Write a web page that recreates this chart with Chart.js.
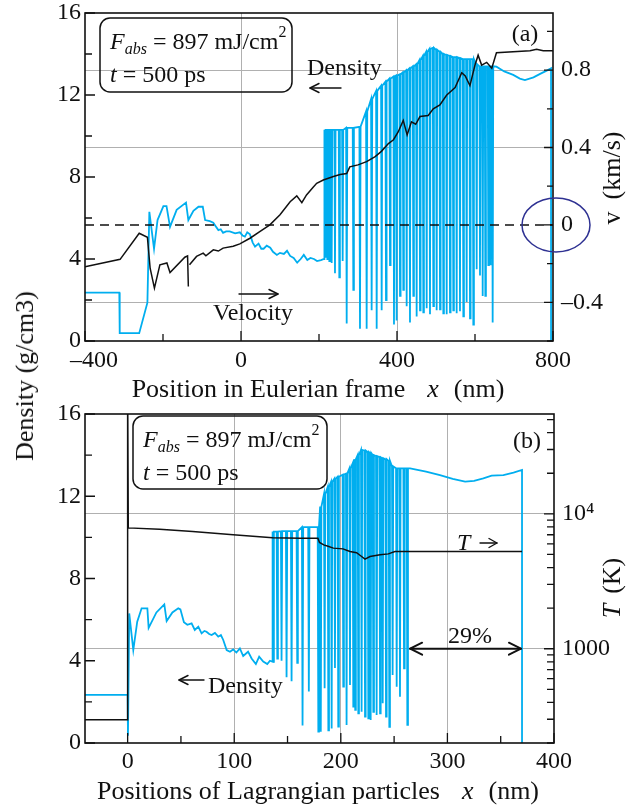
<!DOCTYPE html>
<html>
<head>
<meta charset="utf-8">
<script src="https://cdn.jsdelivr.net/npm/chart.js@4.4.1/dist/chart.umd.min.js"></script>
<style>
  html, body { margin:0; padding:0; background:#fff; }
  body { width:631px; height:811px; position:relative; overflow:hidden; }
  canvas { position:absolute; left:0; }
  #c1 { top:0; }
  #c2 { top:400px; }
  #ylab { position:absolute; left:25px; top:376px; transform:translate(-50%,-50%) rotate(-90deg);
          font:26px "Liberation Serif", "Times New Roman", serif; color:#111; white-space:nowrap; }
</style>
</head>
<body>
<canvas id="c1" width="631" height="406"></canvas>
<canvas id="c2" width="631" height="411"></canvas>
<div id="ylab">Density (g/cm3)</div>
<script>
// ================= DATA =================
// ---- Panel (a): Eulerian frame ----
const eulerTicksX = [-400, -200, 0, 200, 400, 600, 800];
const eulerTickLabelsX = ['   –400', '', '0', '', '400', '', '800'];
const eulerGridX = [0, 400];
const densityTicks = [0, 2, 4, 6, 8, 10, 12, 14, 16];
const densityTickLabels = ['0', '', '4', '', '8', '', '12', '', '16'];
const velTicks = [-0.6, -0.4, -0.2, 0, 0.2, 0.4, 0.6, 0.8, 1.0];
const velTickLabels = ['', '–0.4', '', '0', '', '0.4', '', '0.8', ''];
const velGrid = [-0.4, 0.4, 0.8];

const eulerFrontX = [-400, -312, -311, -261, -240, -235, -223, -214, -199, -191, -182, -165, -141, -135, -122, -109, -98, -92,
  -80, -71, -65, -58, -52, -46, -38, -29, -15, -3, 4, 10, 16, 23, 30, 36, 45, 52, 58, 66, 75, 82, 92, 100, 110, 118,
  126, 135, 144, 153, 161, 170, 178, 187, 195, 205, 213];
const eulerFrontDensity = [2.36, 2.36, 0.38, 0.38, 1.87, 6.3, 4.5, 5.9, 6.58, 6.58, 5.57, 6.4, 6.75, 5.9, 6.35, 6.55, 6.55, 5.9,
  5.85, 5.77, 5.6, 5.41, 5.45, 5.28, 5.35, 5.35, 5.25, 5.3, 5.15, 5.09, 5.3, 5.2, 4.8, 4.6, 4.75, 4.5, 4.5, 4.65, 4.55, 4.35, 4.2, 4.3, 4.25, 4.4,
  4.15, 4.05, 3.82, 4.0, 4.2, 3.95, 4.05, 4.0, 3.9, 3.95, 4.0];

const eulerSpikeX = [215.4, 221.4, 226.5, 232.5, 241.0, 252.1, 260.7, 271.0, 288.0, 305.1,
  322.2, 335.0, 347.9, 360.7, 371.8, 382.1, 392.3, 399.1, 407.7, 416.2,
  424.8, 433.3, 441.9, 450.4, 459.0, 467.5, 476.1, 484.6, 493.2, 501.7,
  510.3, 518.8, 527.4, 535.9, 544.4, 553.0, 561.5, 570.1, 578.6, 587.2,
  595.7, 604.3, 612.8, 619.7, 626.5, 634.2, 640.2, 645.3];
const eulerSpikeTop = [10.3, 10.3, 10.3, 10.3, 10.3, 10.3, 10.3, 10.4, 10.4, 10.45,
  11.2, 11.8, 12.2, 12.45, 12.65, 12.8, 12.9, 12.95, 13.0, 13.1,
  13.2, 13.3, 13.4, 13.5, 13.7, 13.9, 14.1, 14.25, 14.3, 14.2,
  14.1, 14.0, 13.95, 13.9, 13.85, 13.85, 13.8, 13.75, 13.75, 13.75,
  13.75, 13.5, 13.4, 13.4, 13.4, 13.4, 13.4, 13.4];
const eulerSpikeLow = [4.1, 4.0, 3.9, 3.8, 3.3, 3.1, 3.9, 0.85, 2.5, 0.6,
  0.6, 1.5, 0.6, 1.5, 2.0, 3.7, 0.8, 1.0, 2.2, 2.5,
  1.7, 0.9, 2.2, 1.2, 1.5, 1.4, 1.6, 1.3, 1.7, 1.5,
  1.55, 1.35, 1.3, 1.4, 1.5, 1.35, 1.45, 1.2, 1.9, 1.1,
  0.8, 3.5, 3.2, 2.2, 2.2, 3.7, 3.7, 0.9];

const eulerTailX = [655, 675, 698, 715, 728, 750, 767, 780, 795, 795];
const eulerTailDensity = [13.38, 13.15, 12.98, 12.8, 12.73, 12.86, 13.03, 13.15, 13.3, 0];

const eulerVelX = [-400, -310, -261, -240, -233, -222, -208, -190, -182, -144, -137, -135, -134, -132, -114, -97, -90, -71, -58,
  -46, -20, -3, 23, 49, 74, 100, 126, 143, 156, 168, 185, 194, 211, 237, 254, 271, 279, 300, 322, 344, 360, 378,
  391, 403, 416, 426, 437, 448, 459, 480, 493, 510, 527, 549, 566, 575, 587, 600, 608, 617, 630, 643, 655, 741,
  758, 775, 800];
const eulerVel = [-0.217, -0.178, -0.043, -0.064, -0.224, -0.327, -0.206, -0.197, -0.246, -0.167, -0.16, -0.318, null, -0.206, -0.163, -0.146, -0.16, -0.129, -0.135,
  -0.12, -0.11, -0.098, -0.069, -0.034, 0, 0.052, 0.12, 0.15, 0.115, 0.155, 0.195, 0.215, 0.232, 0.25, 0.26, 0.265, 0.3, 0.31, 0.327, 0.353, 0.38, 0.42,
  0.44, 0.48, 0.54, 0.465, 0.533, 0.52, 0.56, 0.565, 0.6, 0.62, 0.67, 0.71, 0.786, 0.77, 0.72, 0.826, 0.877, 0.826, 0.84, 0.81, 0.89, 0.9,
  0.907, 0.9, 0.9];
const velocityZero = 0;

// ---- Panel (b): Lagrangian particles ----
const lagTicksX = [0, 50, 100, 150, 200, 250, 300, 350, 400];
const lagTickLabelsX = ['0', '', '100', '', '200', '', '300', '', '400'];
const lagGridX = [100, 200, 300];
const tempTicks = [200, 300, 400, 500, 600, 700, 800, 900, 1000, 2000, 3000, 4000, 5000, 6000, 7000, 8000, 9000, 10000, 20000, 30000, 40000, 50000];
const tempTickLabels = ['', '', '', '', '', '', '', '', '1000', '', '', '', '', '', '', '', '', '10\u2074', '', '', '', ''];
const tempGrid = [1000, 10000];

const lagFrontX = [-40, 0, 0.3, 1.5, 5.3, 9, 13.1, 18.5, 19.7, 27, 34.4, 36.6, 42, 47.5, 49.5, 52.8, 56, 60, 63, 66.3,
  69.4, 72, 74, 76.5, 78.8, 81.9, 85, 87.5, 89.7, 92.9, 96, 99, 102, 105.3, 108.4, 113, 116.3, 120.3, 123.4, 127.2, 131, 133.5, 136];
const lagFrontDensity = [2.34, 2.34, 0.35, 6.3, 4.52, 5.9, 6.55, 6.55, 5.6, 6.35, 6.74, 5.93, 6.35, 6.55, 6.5, 5.87, 5.75, 5.82, 5.5, 5.66,
  5.33, 5.45, 5.41, 5.3, 5.25, 5.35, 5.17, 5.25, 5.01, 4.52, 4.44, 4.55, 4.4, 4.6, 4.23, 4.44, 4.11, 3.84, 4.2, 3.96, 3.84, 4.0, 3.95];

const lagSpikeX = [136.6, 140.4, 144.4, 149.1, 153.8, 159.1, 164.1, 170.0, 178.9, 181.2,
  184.8, 188.3, 191.4, 194.5, 197.6, 202.3, 205.4, 208.6, 211.7, 213.5,
  216.4, 219.5, 222.7, 225.8, 228.0, 230.5, 233.6, 236.8, 239.3, 242.4,
  245.5, 248.6, 252.4, 255.5, 259.3, 262.4];
const lagSpikeTop = [10.28, 10.28, 10.3, 10.3, 10.3, 10.3, 10.5, 10.5, 10.5, 11.5,
  12.1, 12.45, 12.7, 12.85, 12.95, 13.05, 13.1, 13.35, 13.6, 13.8,
  14.0, 14.25, 14.22, 14.15, 14.1, 14.0, 13.95, 13.9, 13.85, 13.8,
  13.72, 13.45, 13.36, 13.36, 13.36, 13.36];
const lagSpikeLow = [3.95, 4.1, 4.0, 3.2, 3.0, 3.9, 0.85, 2.5, 0.55, 0.55,
  2.66, 0.62, 0.7, 3.65, 0.8, 2.74, 0.87, 2.82, 1.77, 1.61,
  1.44, 1.52, 1.28, 1.2, 1.12, 1.52, 1.36, 1.44, 1.93, 1.28,
  0.79, 3.31, 2.74, 2.25, 3.63, 0.88];

const lagTailX = [265, 280, 293, 305, 316.6, 325, 333.7, 341.5, 352.5, 362, 370, 370];
const lagTailDensity = [13.36, 13.2, 13.03, 12.85, 12.71, 12.75, 12.87, 13.0, 13.03, 13.15, 13.28, 0];

const lagTempX = [-40, 0, 0, 0.6, 30, 61, 99, 136, 162, 178.5, 180, 184, 188, 193, 202, 208.6, 214.8, 219.5, 222.7, 227.4, 236.8, 244.6, 250.8, 370];
const lagTemp = [298, 298, 100000, 7870, 7700, 7400, 7000, 6640, 6600, 6600, 6130, 5890, 5750, 5570, 5500, 5260, 5150, 4830, 4620, 4830, 4970, 5050, 5260, 5260];

const gapArrowX = [265, 369];   // 29 % gap marker (Lagrangian x)
const gapArrowT = 1000;

// ================= HELPERS =================
const FONT = '"Liberation Serif", "Times New Roman", serif';
const CYAN = '#00aeef';
const GRID = '#b0b0b0';
const CLEAR = 'rgba(0,0,0,0)';
const INK = '#111';
Chart.defaults.font.family = FONT;
Chart.defaults.font.size = 24;
Chart.defaults.color = INK;

function toPoints(xs, ys) { return xs.map((x, i) => ({ x: x, y: ys[i] })); }
function densityProfile(fx, fy, sx, st, sl, tx, ty, half) {
  const pts = toPoints(fx, fy);
  sx.forEach((x, i) => {
    pts.push({ x: x - half, y: st[i] }, { x: x, y: sl[i] }, { x: x + half, y: st[i] });
  });
  return pts.concat(toPoints(tx, ty));
}
function fixedTicks(values) { return s => { s.ticks = values.map(v => ({ value: v })); }; }
function fitBox(w, h) {
  return s => {
    if (w !== null) s.width = w;
    if (h !== null) s.height = h;
    s.paddingTop = 0; s.paddingBottom = 0; s.paddingLeft = 0; s.paddingRight = 0;
  };
}
function gridAt(list) { return c => (c.tick && list.some(v => Math.abs(v - c.tick.value) < 1e-9)) ? GRID : CLEAR; }

function strokeFrame(chart) {
  const ctx = chart.ctx, a = chart.chartArea;
  ctx.save(); ctx.strokeStyle = INK; ctx.lineWidth = 1.6;
  ctx.strokeRect(a.left, a.top, a.right - a.left, a.bottom - a.top);
  ctx.restore();
}
function inwardTicks(chart, id, side, labels, major, minor) {
  const s = chart.scales[id], a = chart.chartArea, ctx = chart.ctx;
  ctx.save(); ctx.strokeStyle = INK; ctx.lineWidth = 1.3; ctx.beginPath();
  s.ticks.forEach((t, i) => {
    const p = s.getPixelForValue(t.value);
    const len = labels[i] ? major : minor;
    if (side === 'left') { ctx.moveTo(a.left, p); ctx.lineTo(a.left + len, p); }
    else if (side === 'right') { ctx.moveTo(a.right, p); ctx.lineTo(a.right - len, p); }
    else { ctx.moveTo(p, a.bottom); ctx.lineTo(p, a.bottom - len); }
  });
  ctx.stroke(); ctx.restore();
}
function arrow(ctx, x1, y1, x2, y2, head, hw, lw, both) {
  ctx.save(); ctx.strokeStyle = INK; ctx.lineWidth = lw; ctx.lineCap = 'round'; ctx.lineJoin = 'round';
  ctx.beginPath(); ctx.moveTo(x1, y1); ctx.lineTo(x2, y2); ctx.stroke();
  const tip = (xa, ya, xb, yb) => {
    const g = Math.atan2(yb - ya, xb - xa), c = Math.cos(g), s = Math.sin(g);
    ctx.beginPath();
    ctx.moveTo(xb - head * c + hw * s, yb - head * s - hw * c);
    ctx.lineTo(xb, yb);
    ctx.lineTo(xb - head * c - hw * s, yb - head * s + hw * c);
    ctx.stroke();
  };
  tip(x1, y1, x2, y2);
  if (both) tip(x2, y2, x1, y1);
  ctx.restore();
}
function rich(ctx, parts, x, y, align) {
  let w = 0;
  for (const p of parts) { if (p.gap) { w += p.gap; continue; } ctx.font = p.f; w += ctx.measureText(p.t).width; }
  let cx = align === 'center' ? x - w / 2 : x;
  ctx.textAlign = 'left';
  for (const p of parts) {
    if (p.gap) { cx += p.gap; continue; }
    ctx.font = p.f; ctx.fillText(p.t, cx, y + (p.dy || 0)); cx += ctx.measureText(p.t).width;
  }
}
function roundRect(ctx, x, y, w, h, r) {
  ctx.beginPath();
  ctx.moveTo(x + r, y); ctx.lineTo(x + w - r, y); ctx.arcTo(x + w, y, x + w, y + r, r);
  ctx.lineTo(x + w, y + h - r); ctx.arcTo(x + w, y + h, x + w - r, y + h, r);
  ctx.lineTo(x + r, y + h); ctx.arcTo(x, y + h, x, y + h - r, r);
  ctx.lineTo(x, y + r); ctx.arcTo(x, y, x + r, y, r); ctx.closePath();
}
const R24 = '24px ' + FONT, I24 = 'italic 24px ' + FONT, R16 = '16px ' + FONT, I16 = 'italic 16px ' + FONT;
const R26 = '26px ' + FONT, I26 = 'italic 26px ' + FONT;
function fluenceBox(ctx, bx, by, bw, bh, tx) {
  ctx.save(); ctx.strokeStyle = INK; ctx.lineWidth = 1.5; roundRect(ctx, bx, by, bw, bh, 10); ctx.stroke();
  ctx.fillStyle = INK; ctx.textBaseline = 'alphabetic';
  rich(ctx, [{ t: 'F', f: I24 }, { t: 'abs', f: I16, dy: 5 }, { t: ' = 897 mJ/cm', f: R24 }, { t: '2', f: R16, dy: -12 }], tx, by + 31, 'left');
  rich(ctx, [{ t: 't', f: I24 }, { t: ' = 500 ps', f: R24 }], tx, by + 64, 'left');
  ctx.restore();
}
function text(ctx, str, font, x, y, align, base) {
  ctx.save(); ctx.fillStyle = INK; ctx.font = font; ctx.textAlign = align || 'left'; ctx.textBaseline = base || 'alphabetic';
  ctx.fillText(str, x, y); ctx.restore();
}
function rotatedTitle(ctx, parts, cx, cy) {
  ctx.save(); ctx.fillStyle = INK; ctx.translate(cx, cy); ctx.rotate(-Math.PI / 2); ctx.textBaseline = 'middle';
  rich(ctx, parts, 0, 0, 'center'); ctx.restore();
}

function lineSet(label, data, axis, color, width, order, dash) {
  return { label, data, yAxisID: axis, borderColor: color, backgroundColor: color, borderWidth: width,
    showLine: true, pointRadius: 0, pointHoverRadius: 0, fill: false, tension: 0, spanGaps: false, order,
    borderDash: dash || [] };
}
const baseOptions = { responsive: false, animation: false, events: [],
  plugins: { legend: { display: false }, tooltip: { enabled: false } } };

// ================= PANEL (a) =================
const eulerDensityPts = densityProfile(eulerFrontX, eulerFrontDensity, eulerSpikeX, eulerSpikeTop, eulerSpikeLow, eulerTailX, eulerTailDensity, 1.5);
const eulerVelPts = toPoints(eulerVelX, eulerVel);
const zeroPts = [{ x: eulerTicksX[0], y: velocityZero }, { x: eulerTicksX[eulerTicksX.length - 1], y: velocityZero }];

new Chart(document.getElementById('c1'), {
  type: 'scatter',
  data: { datasets: [
    lineSet('Velocity', eulerVelPts, 'yV', INK, 1.5, 0),
    lineSet('v = 0', zeroPts, 'yV', INK, 1.5, 1, [9, 6]),
    lineSet('Density', eulerDensityPts, 'yD', CYAN, 1.8, 2)
  ] },
  options: Object.assign({}, baseOptions, {
    layout: { padding: { top: 13, left: 0, right: 0, bottom: 0 } },
    scales: {
      x: { type: 'linear', position: 'bottom', min: -400, max: 800,
        afterBuildTicks: fixedTicks(eulerTicksX), afterFit: fitBox(null, 65),
        ticks: { autoSkip: false, maxRotation: 0, minRotation: 0, padding: 5, color: INK, font: { size: 24 },
          callback: (v, i) => eulerTickLabelsX[i] },
        grid: { drawTicks: false, lineWidth: 1, color: gridAt(eulerGridX) }, border: { display: false } },
      yD: { type: 'linear', position: 'left', min: 0, max: 16,
        afterBuildTicks: fixedTicks(densityTicks), afterFit: fitBox(85, null),
        ticks: { autoSkip: false, padding: 4, color: INK, font: { size: 24 }, callback: (v, i) => densityTickLabels[i] },
        grid: { display: false, drawTicks: false }, border: { display: false } },
      yV: { type: 'linear', position: 'right', min: -0.6, max: 1.095,
        afterBuildTicks: fixedTicks(velTicks), afterFit: fitBox(78, null),
        ticks: { autoSkip: false, padding: 8, color: INK, font: { size: 24 }, callback: (v, i) => velTickLabels[i] },
        grid: { drawTicks: false, drawOnChartArea: true, lineWidth: 1, color: gridAt(velGrid) }, border: { display: false } }
    }
  }),
  plugins: [{
    id: 'panelA',
    afterDraw(chart) {
      const ctx = chart.ctx, a = chart.chartArea, yV = chart.scales.yV;
      strokeFrame(chart);
      inwardTicks(chart, 'x', 'bottom', eulerTickLabelsX, 10, 7);
      inwardTicks(chart, 'yD', 'left', densityTickLabels, 10, 7);
      inwardTicks(chart, 'yV', 'right', velTickLabels, 9, 6);
      fluenceBox(ctx, 100, 18, 192, 74, 110);
      text(ctx, '(a)', R24, 525, 35, 'center', 'middle');
      text(ctx, 'Density', R24, 307, 75);
      arrow(ctx, 341, 88, 310, 88, 9, 4.5, 1.4, false);
      text(ctx, 'Velocity', R24, 213, 320);
      arrow(ctx, 239, 294, 278, 294, 9, 4.5, 1.4, false);
      // highlight ellipse around the zero of the velocity axis
      ctx.save(); ctx.strokeStyle = '#2e3192'; ctx.lineWidth = 1.5; ctx.beginPath();
      ctx.ellipse(a.right + 3, yV.getPixelForValue(velocityZero), 34, 27, 0, 0, Math.PI * 2); ctx.stroke(); ctx.restore();
      // axis titles
      ctx.save(); ctx.fillStyle = INK; ctx.textBaseline = 'middle';
      rich(ctx, [{ t: 'Position in Eulerian frame', f: R26 }, { gap: 22 }, { t: 'x', f: I26 }, { gap: 15 }, { t: '(nm)', f: R26 }], 318, 390, 'center');
      ctx.restore();
      rotatedTitle(ctx, [{ t: 'v', f: R26 }, { gap: 12 }, { t: '(km/s)', f: R26 }], 613, 178);
    }
  }]
});

// ================= PANEL (b) =================
const lagDensityPts = densityProfile(lagFrontX, lagFrontDensity, lagSpikeX, lagSpikeTop, lagSpikeLow, lagTailX, lagTailDensity, 0.6);
const lagTempPts = toPoints(lagTempX, lagTemp);

new Chart(document.getElementById('c2'), {
  type: 'scatter',
  data: { datasets: [
    lineSet('T', lagTempPts, 'yT', INK, 1.5, 0),
    lineSet('Density', lagDensityPts, 'yD', CYAN, 1.8, 1)
  ] },
  options: Object.assign({}, baseOptions, {
    layout: { padding: { top: 14, left: 0, right: 0, bottom: 0 } },
    scales: {
      x: { type: 'linear', position: 'bottom', min: -40, max: 400,
        afterBuildTicks: fixedTicks(lagTicksX), afterFit: fitBox(null, 68),
        ticks: { autoSkip: false, maxRotation: 0, minRotation: 0, padding: 4, color: INK, font: { size: 24 },
          callback: (v, i) => lagTickLabelsX[i] },
        grid: { drawTicks: false, lineWidth: 1, color: gridAt(lagGridX) }, border: { display: false } },
      yD: { type: 'linear', position: 'left', min: 0, max: 16,
        afterBuildTicks: fixedTicks(densityTicks), afterFit: fitBox(85, null),
        ticks: { autoSkip: false, padding: 4, color: INK, font: { size: 24 }, callback: (v, i) => densityTickLabels[i] },
        grid: { display: false, drawTicks: false }, border: { display: false } },
      yT: { type: 'logarithmic', position: 'right', min: 200, max: 55000,
        afterBuildTicks: fixedTicks(tempTicks), afterFit: fitBox(77, null),
        ticks: { autoSkip: false, padding: 8, color: INK, font: { size: 24 }, callback: (v, i) => tempTickLabels[i] },
        grid: { drawTicks: false, drawOnChartArea: true, lineWidth: 1, color: gridAt(tempGrid) }, border: { display: false } }
    }
  }),
  plugins: [{
    id: 'panelB',
    afterDraw(chart) {
      const ctx = chart.ctx, x = chart.scales.x, yT = chart.scales.yT;
      strokeFrame(chart);
      inwardTicks(chart, 'x', 'bottom', lagTickLabelsX, 10, 7);
      inwardTicks(chart, 'yD', 'left', densityTickLabels, 10, 7);
      inwardTicks(chart, 'yT', 'right', tempTickLabels, 10, 7);
      fluenceBox(ctx, 133, 16, 194, 73, 143);
      text(ctx, '(b)', R24, 527, 42, 'center', 'middle');
      text(ctx, 'T', I24, 457, 150);
      arrow(ctx, 480, 143, 497, 143, 8, 4.5, 1.4, false);
      const gy = yT.getPixelForValue(gapArrowT);
      arrow(ctx, x.getPixelForValue(gapArrowX[0]), gy, x.getPixelForValue(gapArrowX[1]), gy, 12, 6, 2, true);
      text(ctx, '29%', R24, 470, 243, 'center');
      arrow(ctx, 204, 280, 179, 280, 9, 4.5, 1.4, false);
      text(ctx, 'Density', R24, 208, 293);
      ctx.save(); ctx.fillStyle = INK; ctx.textBaseline = 'middle';
      rich(ctx, [{ t: 'Positions of Lagrangian particles', f: R26 }, { gap: 22 }, { t: 'x', f: I26 }, { gap: 15 }, { t: '(nm)', f: R26 }], 318, 392, 'center');
      ctx.restore();
      rotatedTitle(ctx, [{ t: 'T', f: I26 }, { gap: 10 }, { t: '(K)', f: R26 }], 613, 188);
    }
  }]
});
</script>
</body>
</html>
